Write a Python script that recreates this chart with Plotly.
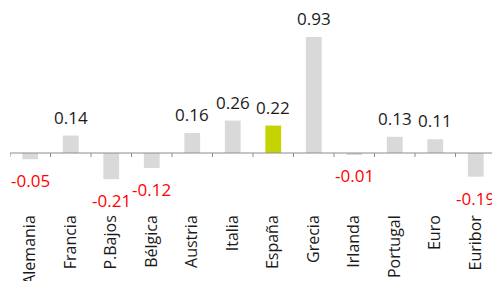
import plotly.graph_objects as go

categories = ["Alemania", "Francia", "P.Bajos", "Bélgica", "Austria", "Italia",
              "España", "Grecia", "Irlanda", "Portugal", "Euro", "Euribor"]
values = [-0.05, 0.14, -0.21, -0.12, 0.16, 0.26, 0.22, 0.93, -0.01, 0.13, 0.11, -0.19]
highlight = "España"

GRAY = "#D9D9D9"
GREEN = "#C5D400"
FONT = "Open Sans"

colors = [GREEN if c == highlight else GRAY for c in categories]

fig = go.Figure()
fig.add_trace(go.Bar(x=categories, y=values, marker=dict(color=colors, line=dict(width=0)),
                     width=0.39, hoverinfo="skip"))

annotations = []
for c, v in zip(categories, values):
    if v >= 0:
        annotations.append(dict(x=c, y=v, text=f"{v:.2f}", showarrow=False,
                                yanchor="bottom", yshift=6, borderpad=0,
                                font=dict(family=FONT, size=17, color="#1A1A1A")))
    else:
        annotations.append(dict(x=c, y=v, text=f"{v:.2f}", showarrow=False,
                                yanchor="top", yshift=-8,
                                font=dict(family=FONT, size=17, color="#FF0000")))

# page body has an 8px margin, so the figure is drawn 8px in from the top-left
fig.update_layout(
    width=492, height=273,
    margin=dict(l=2, r=4, t=0, b=76, autoexpand=False),
    paper_bgcolor="white", plot_bgcolor="white",
    showlegend=False,
    annotations=annotations,
    xaxis=dict(type="category", range=[-0.5, len(categories) - 0.5], tickangle=-90,
               showline=False, showgrid=False, zeroline=False, ticks="", automargin=False,
               ticklabelstandoff=6,
               tickfont=dict(family=FONT, size=16, color="#1A1A1A")),
    yaxis=dict(range=[-0.417, 1.163], visible=False, showgrid=False, zeroline=False,
               automargin=False),
)

# zero line with tick marks at category boundaries
fig.add_shape(type="line", xref="x", yref="y", x0=-0.5, x1=len(categories) - 0.5, y0=0, y1=0,
              line=dict(color="#8C8C8C", width=1))
for i in range(len(categories) + 1):
    fig.add_shape(type="line", xref="x", yref="y", x0=i - 0.5, x1=i - 0.5,
                  y0=0, y1=-0.032, line=dict(color="#8C8C8C", width=1))

fig.write_html("out.html")
